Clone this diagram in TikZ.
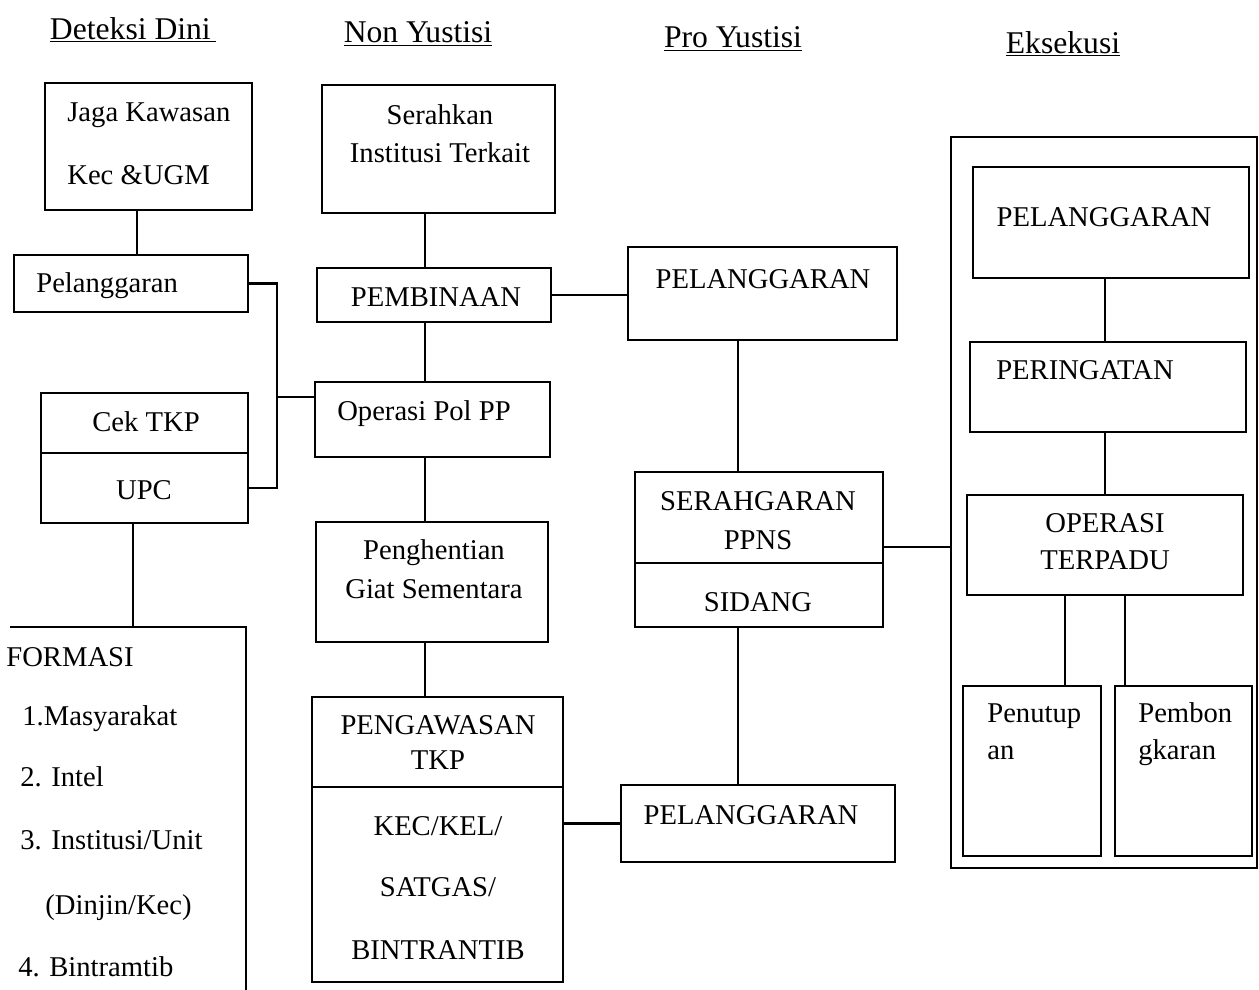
\documentclass[tikz,border=0pt]{standalone}
\usepackage{fontspec}
\setmainfont{Liberation Serif}
\usetikzlibrary{calc,fit}
\tikzset{
  box/.style={draw, line width=1.3pt, inner sep=0pt},
  wire/.style={line width=1.3pt},
  lbl/.style={font=\fontsize{16.3}{19}\selectfont, inner sep=0pt, text height=10.6pt, text depth=0pt},
  head/.style={font=\fontsize{18}{21}\selectfont, inner sep=0pt},
}

\begin{document}
\begin{tikzpicture}[x=0.02cm, y=-0.02cm]
\useasboundingbox (0,0) rectangle (1259,990);

%%%%% HEADERS
\node[head] (hDeteksi) at (133,30) {\underline{Deteksi Dini\,}};
\node[head] (hNon) at (418,34) {\underline{Non Yustisi}};
\node[head] (hPro) at (733,39) {\underline{Pro Yustisi}};
\node[head] (hEks) at (1063,44) {\underline{Eksekusi}};

%%%%% DETEKSI DINI
\node[box, fit={(45,83) (252,210)}] (jaga) {};
\node[lbl, anchor=west] (tJaga1) at (67,112) {Jaga Kawasan};
\node[lbl, anchor=west] (tJaga2) at (67,175) {Kec \&UGM};

\node[box, fit={(14,255) (248,312)}] (pel1) {};
\node[lbl, anchor=west] (tPel1) at (36,283) {Pelanggaran};

\node[box, fit={(41,393) (248,453)}] (cek) {};
\node[box, fit={(41,453) (248,523)}] (upc) {};
\node[lbl] (tCek) at (146,422) {Cek TKP};
\node[lbl] (tUpc) at (144,490) {UPC};

\coordinate (inftl) at (10,627);
\coordinate (inftr) at (246,627);
\coordinate (infbr) at (246,990);
\draw[wire] (inftl) -- (inftr) -- (infbr);
\node[lbl, anchor=west] (tInf) at (6,657) {FORMASI};
\node[lbl, anchor=west] (tInf1) at (22,716) {1.Masyarakat};
\node[lbl, anchor=west] (tInf2) at (20,777) {2. Intel};
\node[lbl, anchor=west] (tInf3) at (20,840) {3. Institusi/Unit};
\node[lbl, anchor=west] (tInf4) at (45,905) {(Dinjin/Kec)};
\node[lbl, anchor=west] (tInf5) at (18,967) {4. Bintramtib};

%%%%% NON YUSTISI
\node[box, fit={(322,85) (555,213)}] (serah) {};
\node[lbl] (tSerah1) at (440,115) {Serahkan};
\node[lbl] (tSerah2) at (440,153) {Institusi Terkait};

\node[box, fit={(317,268) (551,322)}] (pemb) {};
\node[lbl] (tPemb) at (436,297) {PEMBINAAN};

\node[box, fit={(315,382) (550,457)}] (oper) {};
\node[lbl] (tOper) at (424,411) {Operasi Pol PP};

\node[box, fit={(316,522) (548,642)}] (hent) {};
\node[lbl] (tHent1) at (434,550) {Penghentian};
\node[lbl] (tHent2) at (434,589) {Giat Sementara};

\node[box, fit={(312,697) (563,787)}] (awas) {};
\node[box, fit={(312,787) (563,982)}] (kec) {};
\node[lbl] (tAwas1) at (438,725) {PENGAWASAN};
\node[lbl] (tAwas2) at (438,760) {TKP};
\node[lbl] (tKec1) at (438,826) {KEC/KEL/};
\node[lbl] (tKec2) at (438,887) {SATGAS/};
\node[lbl] (tKec3) at (438,950) {BINTRANTIB};

%%%%% PRO YUSTISI
\node[box, fit={(628,247) (897,340)}] (pel2) {};
\node[lbl] (tPel2) at (763,279) {PELANGGARAN};

\node[box, fit={(635,472) (883,563)}] (ppns) {};
\node[box, fit={(635,563) (883,627)}] (sidang) {};
\node[lbl] (tPpns1) at (758,501) {SERAHGARAN};
\node[lbl] (tPpns2) at (758,540) {PPNS};
\node[lbl] (tSidang) at (758,602) {SIDANG};

\node[box, fit={(621,785) (895,862)}] (pel4) {};
\node[lbl] (tPel4) at (751,815) {PELANGGARAN};

%%%%% EKSEKUSI
\node[box, fit={(951,137) (1257,868)}] (eks) {};

\node[box, fit={(973,167) (1249,278)}] (pel3) {};
\node[lbl] (tPel3) at (1104,217) {PELANGGARAN};

\node[box, fit={(970,342) (1246,432)}] (peri) {};
\node[lbl] (tPeri) at (1085,370) {PERINGATAN};

\node[box, fit={(967,495) (1243,595)}] (terpadu) {};
\node[lbl] (tTer1) at (1105,523) {OPERASI};
\node[lbl] (tTer2) at (1105,560) {TERPADU};

\node[box, fit={(963,686) (1101,856)}] (tutup) {};
\node[lbl, anchor=west] (tTut1) at (987,713) {Penutup};
\node[lbl, anchor=west] (tTut2) at (987,750) {an};

\node[box, fit={(1115,686) (1252,856)}] (bongkar) {};
\node[lbl, anchor=west] (tBon1) at (1138,713) {Pembon};
\node[lbl, anchor=west] (tBon2) at (1138,750) {gkaran};

%%%%% CONNECTORS
\coordinate (axDet) at (137,0);
\coordinate (axInf) at (133,0);
\coordinate (axNon) at (425,0);
\coordinate (axPro) at (738,0);
\coordinate (axEks) at (1105,0);
\coordinate (axTut) at (1065,0);
\coordinate (axBon) at (1125,0);
\coordinate (jn) at (277,397);
\coordinate (hzPro) at (0,547);

\draw[wire] (jaga.south -| axDet) -- (pel1.north -| axDet);
\draw[wire] (pel1.east) -| (jn) |- (upc.east);
\draw[wire] (jn) -- (jn -| oper.west);
\draw[wire] (upc.south -| axInf) -- (inftl -| axInf);

\draw[wire] (serah.south -| axNon) -- (pemb.north -| axNon);
\draw[wire] (pemb.south -| axNon) -- (oper.north -| axNon);
\draw[wire] (oper.south -| axNon) -- (hent.north -| axNon);
\draw[wire] (hent.south -| axNon) -- (awas.north -| axNon);
\draw[wire] (pemb.east) -- (pemb.east -| pel2.west);
\draw[wire] (pel4.west) -- (pel4.west -| kec.east);

\draw[wire] (pel2.south -| axPro) -- (ppns.north -| axPro);
\draw[wire] (sidang.south -| axPro) -- (pel4.north -| axPro);
\draw[wire] (ppns.east |- hzPro) -- (eks.west |- hzPro);

\draw[wire] (pel3.south -| axEks) -- (peri.north -| axEks);
\draw[wire] (peri.south -| axEks) -- (terpadu.north -| axEks);
\draw[wire] (terpadu.south -| axTut) -- (tutup.north -| axTut);
\draw[wire] (terpadu.south -| axBon) -- (bongkar.north -| axBon);

\end{tikzpicture}
\end{document}
